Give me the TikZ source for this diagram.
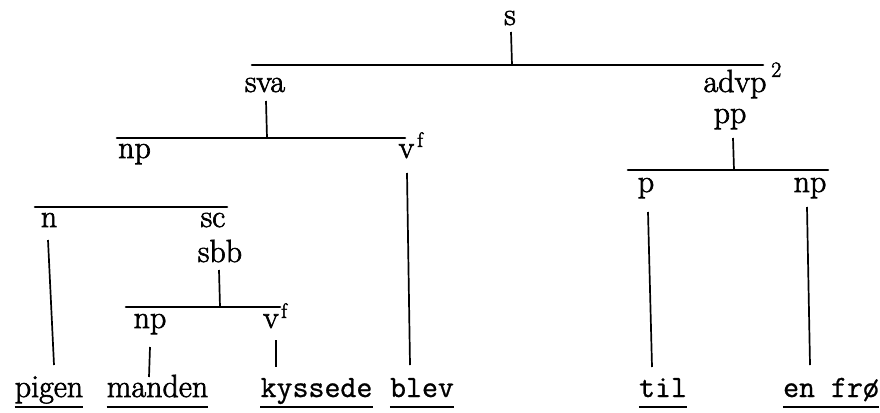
\documentclass[tikz,border=0pt]{standalone}
\usepackage{fontspec}
\newfontfamily\labfont{Latin Modern Roman}[FakeBold=2]
\newfontfamily\twfont{Latin Modern Mono}[FakeBold=0.9]
\begin{document}
\begin{tikzpicture}[x=1pt,y=-1pt,
  lab/.style={anchor=base,inner sep=0pt,font=\labfont\fontsize{32}{34}\selectfont},
  sup/.style={anchor=base west,inner sep=0pt,font=\labfont\fontsize{21}{23}\selectfont},
  twd/.style={anchor=base,inner sep=0pt,font=\twfont\fontsize{31}{33}\selectfont},
  bar/.style={line width=2.6pt,line cap=round},
  stem/.style={line width=1.7pt},
  uline/.style={line width=2pt}]
\useasboundingbox (0,0) rectangle (880,412);

% labels
\node[lab] (s) at (510,25) {s};
\node[lab] (sva) at (265,92) {sva};
\node[lab] (advp) at (735,92) {advp};
\node[sup,font=\labfont\fontsize{22}{24}\selectfont] (two) at (771,77) {2};
\node[lab] (npA) at (134.5,158) {np};
\node[lab] (vA) at (406.5,158) {v};
\node[sup] (fA) at (417,147) {f};
\node[lab] (pp) at (730,123) {pp};
\node[lab] (p) at (646,192) {p};
\node[lab] (npB) at (810,192) {np};
\node[lab] (n) at (49,227) {n};
\node[lab] (sc) at (213,227) {sc};
\node[lab] (sbb) at (220,262) {sbb};
\node[lab] (npC) at (150,328) {np};
\node[lab] (vC) at (271,328) {v};
\node[sup] (fC) at (281,318) {f};

% words
\node[lab] (pigen) at (49,397) {pigen};
\node[lab] (manden) at (157.5,397) {manden};
\node[twd] (kyssede) at (316.5,397) {kyssede};
\node[twd] (blev) at (422,397) {blev};
\node[twd] (til) at (663,397) {til};
\node[twd] (enfro) at (831,397) {en frø};

% bars
\coordinate (topL) at (252,65);  \coordinate (topR) at (763,65);
\coordinate (svaL) at (117,138); \coordinate (svaR) at (405,138);
\coordinate (ppL) at (628,170);  \coordinate (ppR) at (828,170);
\coordinate (nL) at (35,207);    \coordinate (nR) at (227,207);
\coordinate (sbbL) at (126,307); \coordinate (sbbR) at (280,307);
\draw[bar] (topL) -- (topR);
\draw[bar] (svaL) -- (svaR);
\draw[bar] (ppL) -- (ppR);
\draw[bar] (nL) -- (nR);
\draw[bar] (sbbL) -- (sbbR);

% stems
\coordinate (sT) at (511,32);    \coordinate (sB) at (512,65);
\coordinate (svaT) at (266,101); \coordinate (svaB) at (267,138);
\coordinate (vAT) at (407,173);  \coordinate (vAB) at (410,365);
\coordinate (ppT) at (733,138);  \coordinate (ppB) at (734,170);
\coordinate (pT) at (648,212);   \coordinate (pB) at (652,367);
\coordinate (npBT) at (807,207); \coordinate (npBB) at (810,365);
\coordinate (nT) at (48,240);    \coordinate (nB) at (54,365);
\coordinate (sbbT) at (219,270); \coordinate (sbbB) at (220,307);
\coordinate (npCT) at (150,347); \coordinate (npCB) at (149,377);
\coordinate (vCT) at (276,340);  \coordinate (vCB) at (276,367);
\draw[stem] (sT) -- (sB);
\draw[stem] (svaT) -- (svaB);
\draw[stem] (vAT) -- (vAB);
\draw[stem] (ppT) -- (ppB);
\draw[stem] (pT) -- (pB);
\draw[stem] (npBT) -- (npBB);
\draw[stem] (nT) -- (nB);
\draw[stem] (sbbT) -- (sbbB);
\draw[stem] (npCT) -- (npCB);
\draw[stem] (vCT) -- (vCB);

% underlines
\foreach \w in {pigen,manden,kyssede,blev,til,enfro}
  \draw[uline] ([yshift=-10pt]\w.base west) -- ([yshift=-10pt]\w.base east);
\end{tikzpicture}
\end{document}
